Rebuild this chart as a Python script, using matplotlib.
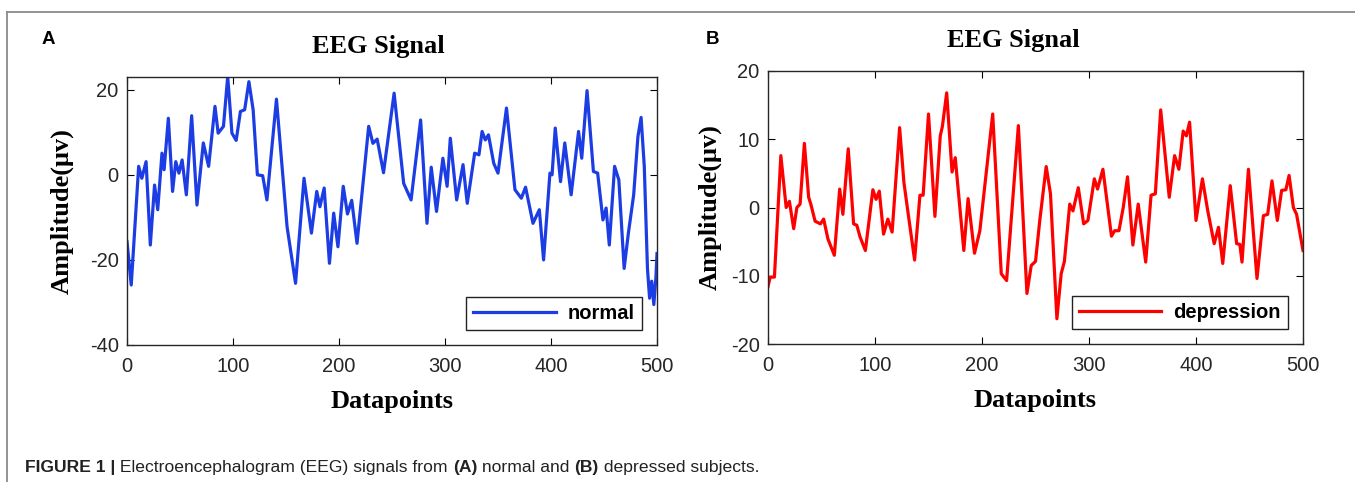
import matplotlib
matplotlib.use("Agg")
import matplotlib.pyplot as plt
from matplotlib.transforms import IdentityTransform
from matplotlib.lines import Line2D

plt.rcParams["axes.unicode_minus"] = False

# EEG samples (datapoint index, amplitude in uV)
normal_x = [0, 4, 11, 14, 18, 22, 26, 29, 33, 35, 39, 43, 46, 49, 52, 56, 61, 66, 72, 77,
            83, 86, 91, 95, 99, 103, 107, 111, 115, 119, 123, 128, 132, 141, 151, 159, 167,
            174, 179, 182, 186, 191, 195, 199, 204, 208, 212, 217, 228, 232, 236, 242, 252,
            261, 268, 277, 283, 287, 292, 298, 302, 305, 311, 317, 321, 328, 332, 335, 338,
            341, 346, 350, 358, 366, 372, 376, 383, 389, 393, 399, 401, 404, 409, 413, 419,
            426, 429, 434, 440, 444, 449, 452, 455, 460, 464, 469, 473, 478, 482, 485, 488,
            491, 493, 495, 497, 499, 500]
normal_y = [-15.7, -25.9, 2.0, -0.8, 3.1, -16.5, -2.4, -8.2, 5.1, 1.2, 13.3, -3.9, 3.1, 0.4,
            3.5, -4.7, 13.9, -7.1, 7.5, 2.0, 16.1, 9.8, 11.4, 23.1, 9.8, 8.1, 14.9, 15.3, 21.9,
            15.3, 0.0, -0.2, -5.9, 17.8, -12.2, -25.5, -0.8, -13.7, -3.9, -7.5, -3.1, -20.8,
            -9.0, -16.9, -2.7, -9.2, -6.0, -16.1, 11.4, 7.4, 8.4, 0.5, 19.2, -2.0, -5.9, 12.9,
            -11.4, 1.8, -8.6, 3.9, -2.7, 8.6, -5.9, 2.4, -6.7, 5.1, 4.7, 10.2, 8.2, 9.4, 2.7,
            0.4, 15.7, -3.5, -5.5, -2.9, -11.4, -8.2, -20.0, 0.4, 0.0, 11.0, -1.6, 7.5, -4.7,
            10.2, 3.9, 19.8, 0.8, 0.4, -10.6, -7.8, -16.5, 2.0, -1.2, -22.0, -13.7, -4.7, 9.0,
            13.5, 2.0, -22.0, -29.0, -25.0, -30.5, -24.0, -18.5]

depression_x = [0, 2, 6, 12, 17, 20, 24, 27, 30, 34, 38, 40, 44, 49, 52, 56, 62, 67, 70, 75,
                80, 83, 86, 91, 98, 101, 104, 108, 112, 116, 123, 127, 131, 137, 142, 145, 150,
                156, 161, 163, 167, 172, 175, 183, 187, 193, 198, 210, 218, 223, 234, 242, 246,
                250, 254, 260, 264, 270, 274, 277, 282, 285, 290, 295, 299, 305, 308, 313, 321,
                324, 328, 332, 336, 341, 346, 353, 358, 362, 367, 375, 380, 384, 388, 391, 394,
                400, 406, 411, 417, 421, 425, 432, 438, 441, 443, 449, 457, 463, 467, 471, 476,
                480, 484, 487, 491, 494, 500]
depression_y = [-11.6, -10.2, -10.2, 7.6, 0.0, 0.9, -3.1, 0.0, 0.5, 9.4, 1.5, 0.5, -2.0, -2.4,
                -1.7, -4.6, -7.0, 2.7, -1.0, 8.6, -2.4, -2.6, -4.3, -6.3, 2.6, 1.2, 2.4, -3.9,
                -1.7, -3.6, 11.7, 3.7, -0.9, -7.7, 1.8, 1.8, 13.7, -1.3, 10.5, 11.9, 16.8, 5.2,
                7.3, -6.3, 1.3, -6.7, -3.4, 13.7, -9.7, -10.7, 12.0, -12.6, -8.5, -7.9, -1.9, 6.0,
                2.0, -16.3, -9.7, -7.9, 0.5, -0.5, 2.9, -2.4, -1.9, 4.2, 2.7, 5.6, -4.2, -3.4,
                -3.4, 0.0, 4.5, -5.5, 0.5, -8.0, 1.8, 2.0, 14.3, 1.5, 7.6, 5.6, 11.2, 10.5, 12.5,
                -1.9, 4.2, -0.5, -5.3, -2.9, -8.2, 3.2, -5.3, -5.4, -8.0, 5.6, -10.4, -1.2, -1.0,
                3.9, -1.9, 2.5, 2.6, 4.7, 0.0, -1.0, -6.3]

serif = "Liberation Serif"
sans = "Liberation Sans"
W, H = 1355, 482

fig = plt.figure(figsize=(W / 100, H / 100), dpi=100)

# frame around the whole figure (only top and left edges show)
fig.add_artist(Line2D([7 / W, 7 / W], [0, 1 - 12 / H], transform=fig.transFigure,
                      color="#8a8a8a", lw=1.3))
fig.add_artist(Line2D([7 / W, 1], [1 - 12 / H, 1 - 12 / H], transform=fig.transFigure,
                      color="#8a8a8a", lw=1.3))

axA = fig.add_axes([127 / W, 1 - 345 / H, 530 / W, 268 / H])
axB = fig.add_axes([768 / W, 1 - 344 / H, 535 / W, 273 / H])

panels = [
    (axA, normal_x, normal_y, "#1c3de4", "normal", (-40, 23), [-40, -20, 0, 20], 74, "A", 42, 378, 46),
    (axB, depression_x, depression_y, "#ff0000", "depression", (-20, 20), [-20, -10, 0, 10, 20], 722, "B", 706, 1013, 41),
]

for ax, xs, ys, col, lab, ylim, yt, ylab_px, letter, letter_px, title_px, title_py in panels:
    ax.plot(xs, ys, color=col, lw=2.3, label=lab, solid_joinstyle="round")
    ax.set_xlim(0, 500)
    ax.set_ylim(*ylim)
    ax.set_xticks([0, 100, 200, 300, 400, 500])
    ax.set_yticks(yt)
    ax.tick_params(direction="in", top=True, right=True, length=5, width=0.8,
                   labelsize=14.5)
    ax.tick_params(axis="x", pad=8.5)
    ax.tick_params(axis="y", pad=6)
    for t in ax.get_xticklabels() + ax.get_yticklabels():
        t.set_fontfamily(sans)
        t.set_color("#262626")
    for s in ax.spines.values():
        s.set_linewidth(1.0)
        s.set_color("#262626")
    ax.set_xlabel("Datapoints", fontfamily=serif, fontweight="bold", fontsize=19, labelpad=10)
    ax.set_ylabel("Amplitude(\u03bcv)", fontfamily=serif, fontweight="bold", fontsize=19)
    pos = ax.get_position()
    ax.yaxis.set_label_coords(ylab_px / W, pos.y0 + pos.height / 2, transform=fig.transFigure)
    leg = ax.legend(loc="lower right", handlelength=4.1, fancybox=False, framealpha=1,
                    edgecolor="#222222", borderaxespad=0.75, handletextpad=0.6,
                    borderpad=0.35, prop={"family": sans, "weight": "bold", "size": 14.5})
    leg.get_frame().set_linewidth(1.0)
    fig.text(letter_px / W, 1 - 40 / H, letter, fontfamily=sans, fontweight="bold",
             fontsize=13.5, ha="left", va="center")
    fig.text(title_px / W, 1 - title_py / H, "EEG Signal", fontfamily=serif,
             fontweight="bold", fontsize=19, ha="center", va="center")

# caption with mixed bold/regular pieces, laid out left to right in pixels
parts = [("FIGURE 1 |", "bold"), (" Electroencephalogram (EEG) signals from ", "normal"),
         ("(A)", "bold"), (" normal and ", "normal"), ("(B)", "bold"),
         (" depressed subjects.", "normal")]
renderer = fig.canvas.get_renderer()
xpos = 25
for s, w in parts:
    t = fig.text(xpos, H - 472, s, fontfamily=sans, fontweight=w, fontsize=12.6,
                 color="#222222", va="baseline", ha="left", transform=IdentityTransform())
    xpos += t.get_window_extent(renderer).width

fig.savefig("out.png", dpi=100)
